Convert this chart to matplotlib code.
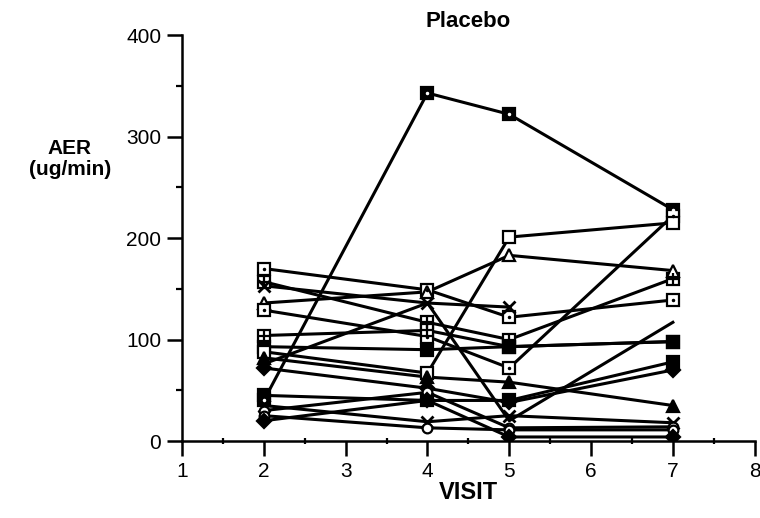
import matplotlib
matplotlib.use('Agg')
import numpy as np
import matplotlib.pyplot as plt
from matplotlib.ticker import MultipleLocator

plt.rcParams['font.family'] = ['Liberation Sans', 'DejaVu Sans']

# Visits on the x axis
visits = [2, 4, 5, 7]

# AER per subject (ug/min) at visits 2, 4, 5, 7
s01 = [40, 343, 322, 228]
s02 = [170, 149, 122, 139]
s03 = [157, 117, 100, 160]
s04 = [153, 136, 132, np.nan]
s05 = [136, 147, 183, 168]
s06 = [129, 103, 72, 222]
s07 = [104, 109, 93, 98]
s08 = [93, 90, 93, 98]
s09 = [88, 67, 201, 215]
s10 = [82, 63, 58, 35]
s11 = [45, 40, 40, 78]
s12 = [72, 52, 38, 70]
s13 = [76, 136, 20, 117]
s14 = [35, 19, 25, 18]
s15 = [30, 48, 13, 14]
s16 = [25, 13, 11, 11]
s17 = [20, 40, 4, 4]

subjects = [s01, s02, s03, s04, s05, s06, s07, s08, s09,
            s10, s11, s12, s13, s14, s15, s16, s17]
symbols = ['sqdotfill', 'sqdot', 'sqplus', 'x', 'tri', 'sqdot', 'sqplus',
           'sqfill', 'sq', 'trifill', 'sqfill', 'diafill', 'none',
           'x', 'circ', 'circ', 'diafill']


def draw_marker(ax, x, y, kind):
    """Mimic the old Mac plotting symbols"""
    if kind == 'none':
        return
    ms = 8
    kw = dict(linestyle='none', zorder=3, markeredgewidth=1.6, markeredgecolor='black')
    if kind == 'sq':
        ax.plot(x, y, 's', ms=ms, markerfacecolor='white', **kw)
    elif kind == 'sqfill':
        ax.plot(x, y, 's', ms=ms, markerfacecolor='black', **kw)
    elif kind == 'sqdot':
        ax.plot(x, y, 's', ms=ms, markerfacecolor='white', **kw)
        ax.plot(x, y, '.', ms=3, color='black', zorder=4)
    elif kind == 'sqdotfill':
        ax.plot(x, y, 's', ms=ms, markerfacecolor='black', **kw)
        ax.plot(x, y, '.', ms=3, color='white', zorder=4)
    elif kind == 'sqplus':
        ax.plot(x, y, 's', ms=ms, markerfacecolor='white', **kw)
        ax.plot(x, y, '+', ms=ms, color='black', markeredgewidth=1.6, zorder=4)
    elif kind == 'tri':
        ax.plot(x, y, '^', ms=ms, markerfacecolor='white', **kw)
    elif kind == 'trifill':
        ax.plot(x, y, '^', ms=ms, markerfacecolor='black', **kw)
    elif kind == 'diafill':
        ax.plot(x, y, 'D', ms=ms - 1, markerfacecolor='black', **kw)
    elif kind == 'circ':
        ax.plot(x, y, 'o', ms=ms - 1, markerfacecolor='white', **kw)
    elif kind == 'x':
        ax.plot(x, y, 'x', ms=ms, color='black', markeredgewidth=2, zorder=3)


fig = plt.figure(figsize=(7.6, 5.18), dpi=100)
ax = fig.add_axes([0.2395, 0.1486, 0.7535, 0.7835])

for vals, sym in zip(subjects, symbols):
    ax.plot(visits, vals, '-', color='black', lw=2.2, zorder=2)
    draw_marker(ax, visits, vals, sym)

ax.set_xlim(1, 8)
ax.set_ylim(0, 400)
ax.xaxis.set_major_locator(MultipleLocator(1))
ax.xaxis.set_minor_locator(MultipleLocator(0.5))
ax.yaxis.set_major_locator(MultipleLocator(100))
ax.yaxis.set_minor_locator(MultipleLocator(50))

for side in ['top', 'right']:
    ax.spines[side].set_visible(False)
for side in ['left', 'bottom']:
    ax.spines[side].set_linewidth(1.8)

ax.tick_params(axis='both', which='major', length=11, width=1.8,
               labelsize=15, pad=4)
ax.tick_params(axis='y', which='minor', length=4, width=1.6)
ax.tick_params(axis='x', which='minor', length=4, width=1.6, direction='inout')

ax.set_title('Placebo', fontsize=16, fontweight='bold', pad=6)
ax.set_xlabel('VISIT', fontsize=17, fontweight='bold', labelpad=0)
fig.text(0.092, 0.713, 'AER', fontsize=15, fontweight='bold', ha='center', va='center')
fig.text(0.092, 0.673, '(ug/min)', fontsize=15, fontweight='bold', ha='center', va='center')

fig.savefig('out.png', dpi=100)
